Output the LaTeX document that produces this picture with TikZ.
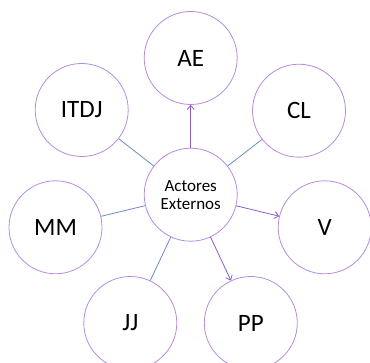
\documentclass[tikz,border=0pt]{standalone}
\usepackage{fontspec}
\setmainfont{Carlito}
\usetikzlibrary{arrows.meta}
\definecolor{ring}{HTML}{B48CDC}
\definecolor{blueline}{HTML}{6A8CC8}
\definecolor{purpline}{HTML}{8E5CC6}
\tikzset{
  actor/.style={circle, draw=ring, line width=0.8pt, minimum size=93pt, inner sep=0pt, font=\fontsize{25}{28}\selectfont, text=black},
  hub/.style={actor, font=\fontsize{17}{18}\selectfont, align=center},
  link/.style={draw=blueline, line width=0.8pt},
  flow/.style={draw=purpline, line width=0.8pt, -{Straight Barb[length=4pt,width=7pt]}}
}
\begin{document}
\begin{tikzpicture}[x=1pt,y=-1pt]
\useasboundingbox (0,0) rectangle (370,363);
\node[hub] (c) at (190.7,194.7) {Actores\\Externos};
\node[actor] (ae) at (190.7,58) {AE};
\node[actor] (cl) at (299,110.7) {CL};
\node[actor] (itdj) at (81.7,110) {ITDJ};
\node[actor] (mm) at (55.5,227.3) {MM};
\node[actor] (v) at (324.7,227.3) {V};
\node[actor] (jj) at (130.3,323) {JJ};
\node[actor] (pp) at (250.8,323) {PP};
\draw[flow] (c) -- (ae);
\draw[flow] (c) -- (v);
\draw[flow] (c) -- (pp);
\draw[link] (c) -- (itdj);
\draw[link] (c) -- (cl);
\draw[link] (c) -- (mm);
\draw[link] (c) -- (jj);
\end{tikzpicture}
\end{document}
